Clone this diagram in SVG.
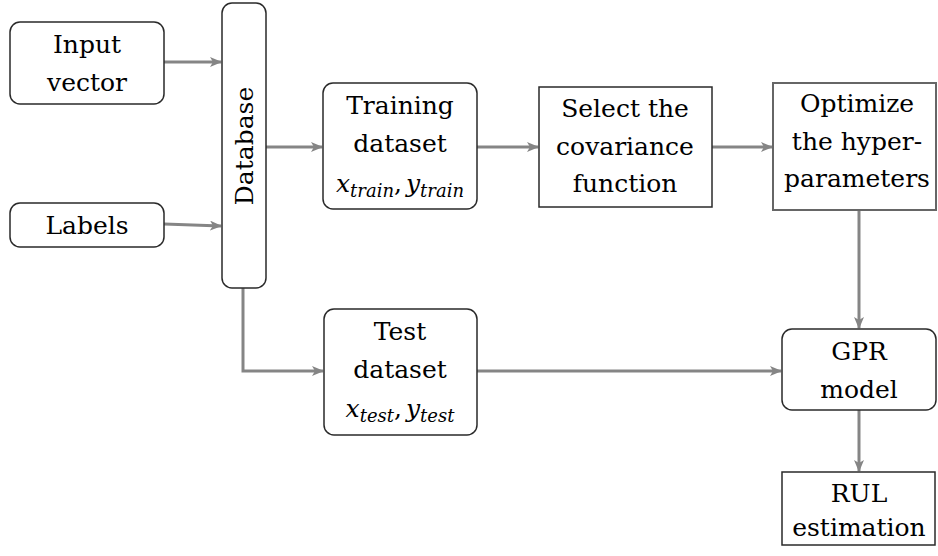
<svg xmlns="http://www.w3.org/2000/svg" width="938" height="556" viewBox="0 0 938 556">
<style>
.box{fill:#fff;stroke:#2a2a2a;stroke-width:1.5}
.t{font-family:'DejaVu Serif','Liberation Serif',serif;font-size:25px;fill:#000;text-anchor:middle}
.i{font-style:italic}
.u{font-style:normal}
.c{fill:none;stroke:#858585;stroke-width:3}
</style>
<defs>
<marker id="ah" viewBox="0 0 12 10" refX="11" refY="5" markerWidth="12" markerHeight="10" markerUnits="userSpaceOnUse" orient="auto">
<path d="M0,0 L12,5 L0,10 L3,5 Z" fill="#858585"/>
</marker>
</defs>
<g id="connectors">
<path class="c" d="M164,62 L221,62" marker-end="url(#ah)"/>
<path class="c" d="M164,224 L221,226" marker-end="url(#ah)"/>
<path class="c" d="M266,147 L322,147" marker-end="url(#ah)"/>
<path class="c" d="M477,147 L538,147" marker-end="url(#ah)"/>
<path class="c" d="M712,147 L772,147" marker-end="url(#ah)"/>
<path class="c" d="M859,210 L859,328" marker-end="url(#ah)"/>
<path class="c" d="M243,288 L243,371 L323,371" marker-end="url(#ah)"/>
<path class="c" d="M477,371 L781,371" marker-end="url(#ah)"/>
<path class="c" d="M859,410 L859,471" marker-end="url(#ah)"/>
</g>
<g id="input">
<rect class="box" x="10" y="22" width="154" height="82" rx="10"/>
<text class="t" x="87" y="53">Input</text>
<text class="t" x="87" y="91">vector</text>
</g>
<g id="labels">
<rect class="box" x="10" y="203" width="154" height="44" rx="10"/>
<text class="t" x="87" y="234">Labels</text>
</g>
<g id="database">
<rect class="box" x="222" y="3" width="44" height="285" rx="10"/>
<text class="t" transform="translate(253,146) rotate(-90)">Database</text>
</g>
<g id="training">
<rect class="box" x="323" y="83" width="154" height="126" rx="10"/>
<text class="t" x="400" y="114">Training</text>
<text class="t" x="400" y="152">dataset</text>
<text class="t i" x="400" y="192">x<tspan font-size="18" dy="5">train</tspan><tspan class="u" dy="-5">,</tspan><tspan dx="4">y</tspan><tspan font-size="18" dy="5">train</tspan></text>
</g>
<g id="select">
<rect class="box" x="539" y="87" width="173" height="120"/>
<text class="t" x="625" y="117">Select the</text>
<text class="t" x="625" y="155">covariance</text>
<text class="t" x="625" y="192">function</text>
</g>
<g id="optimize">
<rect class="box" x="773" y="83" width="163" height="127" style="stroke:#666;stroke-width:2"/>
<text class="t" x="857" y="112">Optimize</text>
<text class="t" x="857" y="150">the hyper-</text>
<text class="t" x="857" y="187">parameters</text>
</g>
<g id="test">
<rect class="box" x="324" y="309" width="153" height="126" rx="10"/>
<text class="t" x="400" y="340">Test</text>
<text class="t" x="400" y="378">dataset</text>
<text class="t i" x="400" y="417">x<tspan font-size="18" dy="5">test</tspan><tspan class="u" dy="-5">,</tspan><tspan dx="4">y</tspan><tspan font-size="18" dy="5">test</tspan></text>
</g>
<g id="gpr">
<rect class="box" x="782" y="329" width="154" height="81" rx="10"/>
<text class="t" x="859" y="360">GPR</text>
<text class="t" x="859" y="398">model</text>
</g>
<g id="rul">
<rect class="box" x="782" y="472" width="153" height="73"/>
<text class="t" x="859" y="502">RUL</text>
<text class="t" x="859" y="536">estimation</text>
</g>
</svg>
